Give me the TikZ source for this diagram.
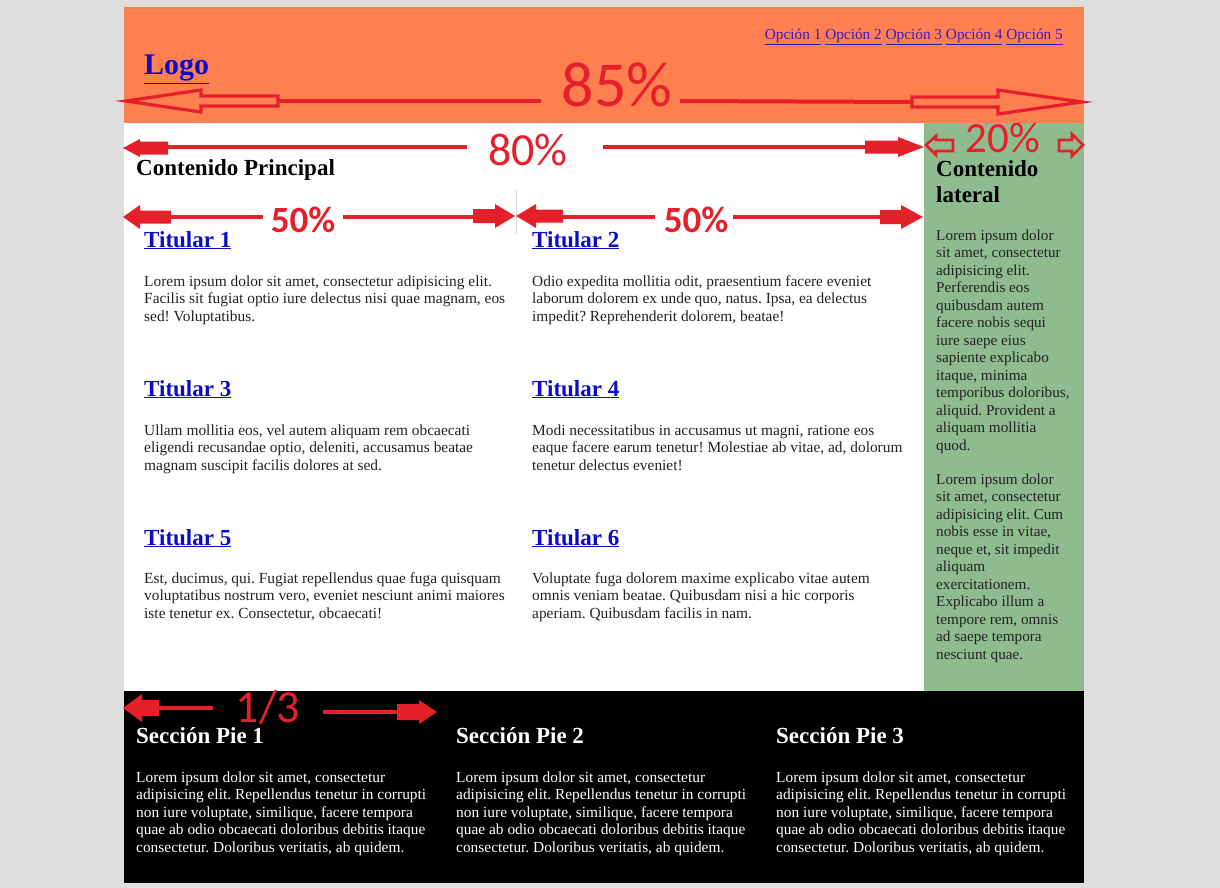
\documentclass[tikz,border=0pt]{standalone}
\usepackage{fontspec}
\setmainfont{Liberation Serif}
\newfontfamily\marksans{Carlito}
\definecolor{pagegray}{HTML}{DEDEDE}
\definecolor{coral}{HTML}{FF7F50}
\definecolor{sage}{HTML}{8FBC8F}
\definecolor{markred}{HTML}{E5202A}
\definecolor{linkblue}{HTML}{0B0BC8}
\definecolor{menublue}{HTML}{3A1CC4}
\definecolor{bodyink}{HTML}{222222}
\newcommand{\fsz}[2]{\fontsize{#1}{#2}\selectfont}
% lines stacked from the first baseline down
\newcommand{\txtlines}[1]{\begin{tabular}[t]{@{}l@{}}#1\end{tabular}}
\frenchspacing

\begin{document}
\begin{tikzpicture}[
    x=1pt, y=-1pt,
    txt/.style={inner sep=0pt, anchor=base west},
    para/.style={txt, font=\fsz{15.4}{17.5}, text=bodyink},
    headline/.style={txt, font=\fsz{23}{26.5}\bfseries, text=black},
    link/.style={headline, text=linkblue},
    dimtext/.style={inner sep=0pt, anchor=base, text=markred},
    dimline/.style={draw=markred, line width=4pt},
    hollow/.style={draw=markred, line width=3.2pt, line join=miter}]
  % canvas in screen pixels, y grows downwards
  \path[use as bounding box, fill=pagegray] (0,0) rectangle (1220,888);

  % ================= page blocks =================
  \fill[white] (124,7) rectangle (1084,883);
  \fill[coral] (124,7) rectangle (1084,123);
  \fill[sage] (924,123) rectangle (1084,691);
  \fill[black] (124,691) rectangle (1084,883);
  \draw[black!15, line width=0.8pt] (516,190) -- (516,234);

  % ================= header =================
  \node[txt, font=\fsz{30}{34}\bfseries, text=linkblue] (logo) at (144,75) {\underline{Logo}};
  \node[txt, font=\fsz{15.3}{17.5}, text=menublue, anchor=base east] (menu) at (1063,40)
    {\underline{Opción 1} \underline{Opción 2} \underline{Opción 3} \underline{Opción 4} \underline{Opción 5}};

  % ================= main content =================
  \node[headline] (main) at (136,175) {Contenido Principal};
  \foreach \n/\x/\y in {1/144/247, 2/532/247, 3/144/396, 4/532/396, 5/144/545, 6/532/545}
    \node[link] (tit\n) at (\x,\y) {\underline{Titular \n}};
  \node[para] (par1) at (144,286) {\txtlines{Lorem ipsum dolor sit amet, consectetur adipisicing elit.\\
    Facilis sit fugiat optio iure delectus nisi quae magnam, eos\\ sed! Voluptatibus.}};
  \node[para] (par2) at (532,286) {\txtlines{Odio expedita mollitia odit, praesentium facere eveniet\\
    laborum dolorem ex unde quo, natus. Ipsa, ea delectus\\ impedit? Reprehenderit dolorem, beatae!}};
  \node[para] (par3) at (144,435) {\txtlines{Ullam mollitia eos, vel autem aliquam rem obcaecati\\
    eligendi recusandae optio, deleniti, accusamus beatae\\ magnam suscipit facilis dolores at sed.}};
  \node[para] (par4) at (532,435) {\txtlines{Modi necessitatibus in accusamus ut magni, ratione eos\\
    eaque facere earum tenetur! Molestiae ab vitae, ad, dolorum\\ tenetur delectus eveniet!}};
  \node[para] (par5) at (144,583) {\txtlines{Est, ducimus, qui. Fugiat repellendus quae fuga quisquam\\
    voluptatibus nostrum vero, eveniet nesciunt animi maiores\\ iste tenetur ex. Consectetur, obcaecati!}};
  \node[para] (par6) at (532,583) {\txtlines{Voluptate fuga dolorem maxime explicabo vitae autem\\
    omnis veniam beatae. Quibusdam nisi a hic corporis\\ aperiam. Quibusdam facilis in nam.}};

  % ================= sidebar =================
  \node[headline] (side) at (936,176) {\txtlines{Contenido\\ lateral}};
  \node[para, font=\fsz{15.2}{17.5}] (side1) at (936,240) {\txtlines{Lorem ipsum dolor\\ sit amet, consectetur\\ adipisicing elit.\\
    Perferendis eos\\ quibusdam autem\\ facere nobis sequi\\ iure saepe eius\\ sapiente explicabo\\
    itaque, minima\\ temporibus doloribus,\\ aliquid. Provident a\\ aliquam mollitia\\ quod.}};
  \node[para, font=\fsz{15.2}{17.5}] (side2) at (936,484) {\txtlines{Lorem ipsum dolor\\ sit amet, consectetur\\ adipisicing elit. Cum\\
    nobis esse in vitae,\\ neque et, sit impedit\\ aliquam\\ exercitationem.\\ Explicabo illum a\\
    tempore rem, omnis\\ ad saepe tempora\\ nesciunt quae.}};

  % ================= footer =================
  \foreach \n/\x in {1/136, 2/456, 3/776} {
    \node[headline, text=white] (pie\n) at (\x,743) {Sección Pie \n};
    \node[para, text=white] (piepar\n) at (\x,782) {\txtlines{Lorem ipsum dolor sit amet, consectetur\\
      adipisicing elit. Repellendus tenetur in corrupti\\ non iure voluptate, similique, facere tempora\\
      quae ab odio obcaecati doloribus debitis itaque\\ consectetur. Doloribus veritatis, ab quidem.}};
  }

  % ================= width marks: 85% (hollow heads) =================
  \draw[dimline] (278,101) -- (541,101);
  \draw[dimline] (680,101) -- (912,102);
  \draw[hollow] (126,101) -- (201,90) -- (201,96) -- (278,96) -- (278,106) -- (201,106) -- (201,112) -- cycle;
  \draw[hollow] (1082,102) -- (998,90) -- (998,97) -- (912,97) -- (912,107) -- (998,107) -- (998,114) -- cycle;
  \node[dimtext, font=\marksans\fsz{64}{64}] (pct85) at (617,107) {85\%};

  % ================= 20% (small hollow heads) =================
  \draw[hollow, line width=2.6pt] (926,145) -- (936,136) -- (936,140) -- (953,140) -- (953,151) -- (936,151) -- (936,155) -- cycle;
  \draw[hollow, line width=2.6pt] (1083,145) -- (1072,134) -- (1072,140) -- (1059,140) -- (1059,151) -- (1072,151) -- (1072,156) -- cycle;
  \node[dimtext, font=\marksans\fsz{43}{43}] (pct20) at (1003,152) {20\%};

  % ================= 80%, 50%, 1/3 (solid block heads) =================
  \draw[dimline] (165,147) -- (467,147);
  \draw[dimline] (603,147) -- (866,147);
  \node[dimtext, font=\marksans\fsz{46}{46}] (pct80) at (528,165) {80\%};
  \draw[dimline] (150,217) -- (263,217);
  \draw[dimline] (343,217) -- (475,217);
  \draw[dimline] (560,217) -- (655,217);
  \draw[dimline] (733,217) -- (882,217);
  \node[dimtext, font=\marksans\fsz{37}{37}\bfseries] (pct50a) at (303,232) {50\%};
  \node[dimtext, font=\marksans\fsz{37}{37}\bfseries] (pct50b) at (696,232) {50\%};
  \draw[dimline] (150,708) -- (213,708);
  \draw[dimline] (323,712) -- (402,712);
  \node[dimtext, font=\marksans\fsz{46}{46}] (third) at (268,722) {1/3};
  % tip x / y / direction / head length / block length / head half / block half
  \foreach \tx/\ty/\d/\hl/\bl/\hw/\bw in {
      123/148/-1/17/28/9/6.5, 924/147/1/26/33/10/6.5,
      123/217/-1/17/31/12/6.5, 515/216/1/20/22/12/7,
      516/216/-1/20/27/12/6.5, 923/217/1/22/21/12/7,
      123/708/-1/19/17/14/8, 437/712/1/18/22/12/8} {
    \fill[markred] (\tx,\ty) -- ++({-(\d)*\hl},-\hw) -- ++(0,{\hw-\bw}) -- ++({-(\d)*\bl},0)
      -- ++(0,{2*\bw}) -- ++({(\d)*\bl},0) -- ++(0,{\hw-\bw}) -- cycle;
  }
\end{tikzpicture}
\end{document}
